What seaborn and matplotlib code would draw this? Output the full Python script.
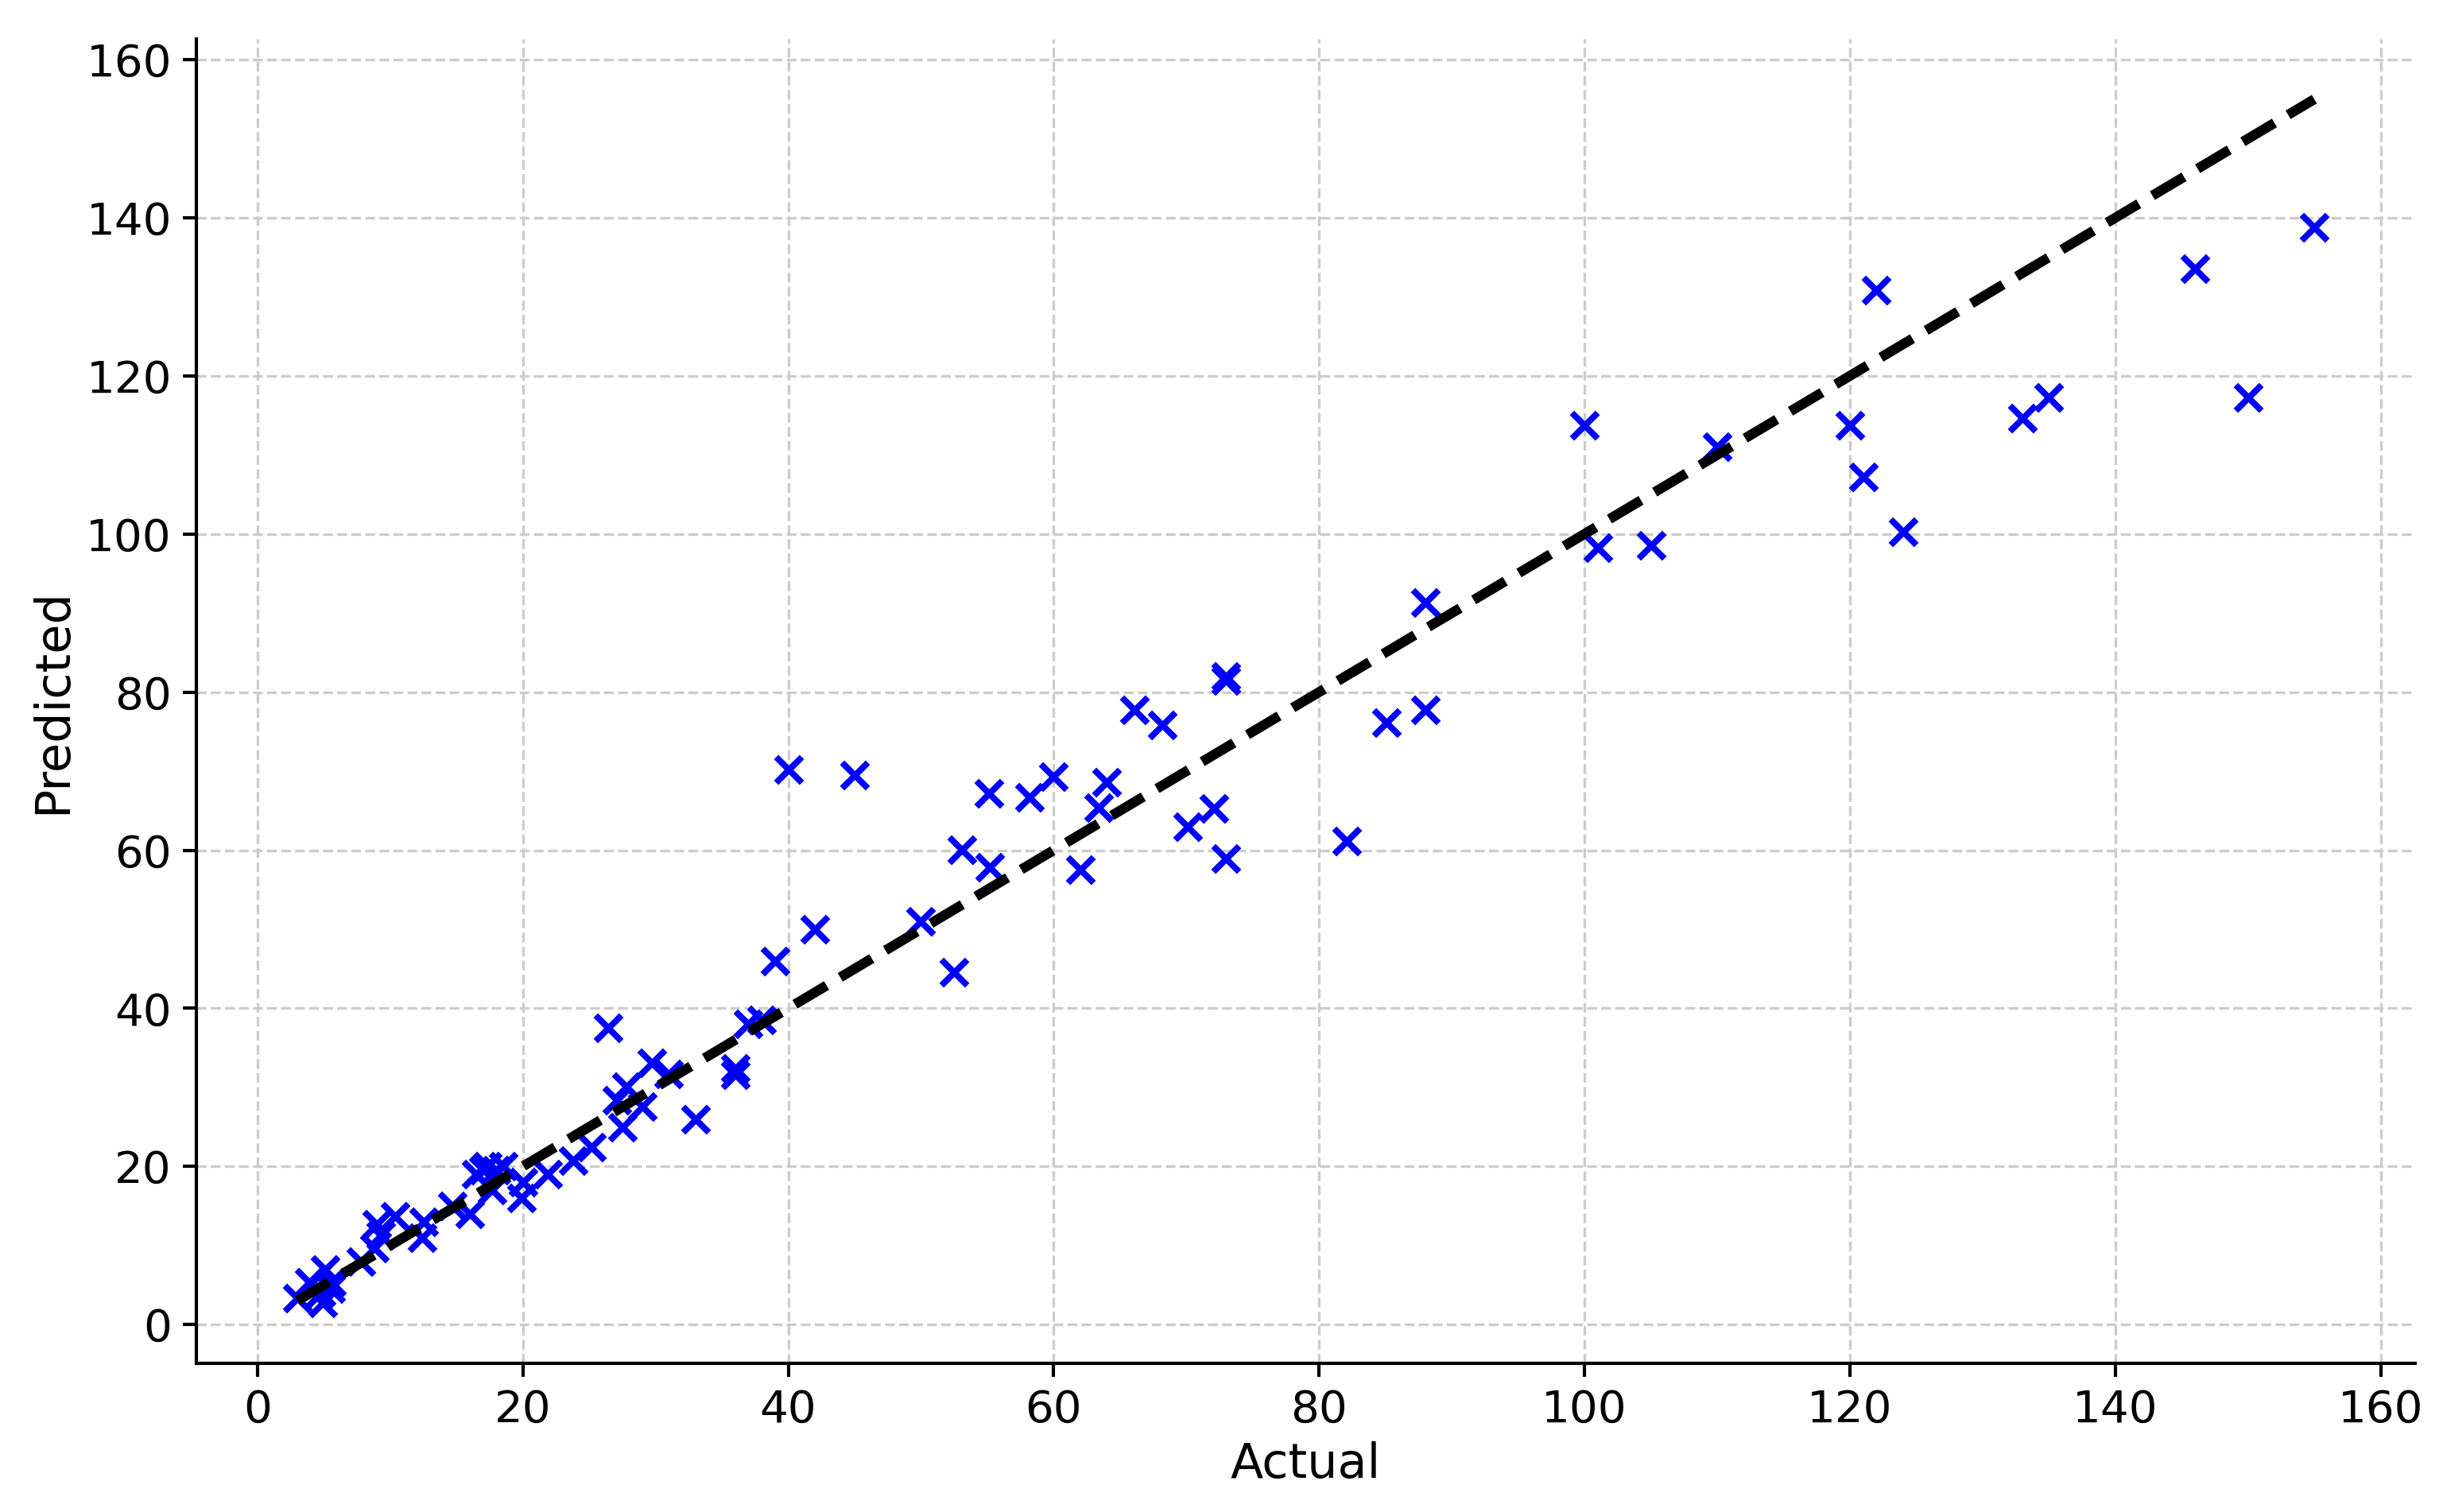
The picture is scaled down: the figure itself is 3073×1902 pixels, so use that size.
import matplotlib
matplotlib.use("Agg")
import matplotlib.pyplot as plt
import seaborn as sns
import pandas as pd
import numpy as np

actual = [3, 3.9, 4.8, 4.9, 5.1, 5.6, 5.5, 7.8, 8.8, 9.0, 9.3, 10.4, 12.4, 12.5,
          14.7, 16.0, 16.5, 17.0, 17.3, 17.7, 18.0, 18.5, 19.9, 20.0, 21.9, 23.8,
          25.2, 26.4, 27.1, 27.5, 27.8, 29.0, 29.7, 31.0, 33.0, 36.0, 36.0, 37.0,
          38.0, 39.0, 40.0, 42.0, 45.0, 50.0, 52.5, 53.1, 55.1, 55.2, 58.2, 60.0,
          62.0, 63.4, 64.0, 66.1, 68.2, 70.1, 72.1, 73.0, 73.0, 73.0, 82.1, 85.1,
          88.0, 88.0, 100.0, 101.0, 105.0, 110.0, 120.0, 121.0, 122.0, 124.0,
          133.0, 135.0, 146.0, 150.0, 155.0]
predicted = [3.3, 5.3, 4.0, 2.7, 7.0, 5.3, 4.5, 8.0, 9.7, 12.7, 11.3, 13.7, 11.0, 13.0,
             15.0, 14.0, 19.0, 19.5, 20.0, 17.0, 19.5, 20.0, 16.0, 18.0, 19.0, 20.7,
             22.4, 37.5, 28.4, 25.0, 30.1, 27.6, 33.1, 31.7, 26.0, 32.4, 31.6, 38.0,
             38.5, 46.0, 70.2, 50.0, 69.5, 51.0, 44.6, 60.1, 67.2, 57.8, 66.7, 69.3,
             57.5, 65.4, 68.6, 77.7, 75.8, 63.0, 65.3, 82.0, 81.5, 58.9, 61.2, 76.1,
             91.3, 77.7, 113.8, 98.3, 98.6, 111.0, 113.8, 107.2, 130.8, 100.3,
             114.7, 117.3, 133.6, 117.3, 138.8]

df = pd.DataFrame({"Actual": actual, "Predicted": predicted})
line_vals = [min(actual), max(actual)]

plt.rcParams['font.family'] = ['DejaVu Sans']
fig = plt.figure(figsize=(3073 / 300, 1902 / 300), dpi=300)
ax = fig.add_axes([0.0804, 0.0983, 0.9082, 0.8759])

sns.scatterplot(x="Actual", y="Predicted", data=df, marker="x", color="blue",
                s=60, linewidth=1.9, ax=ax, zorder=3)
sns.lineplot(x=line_vals, y=line_vals, color="black", linestyle="--",
             linewidth=3, ax=ax, zorder=4)

ax.set_xticks(range(0, 161, 20))
ax.set_yticks(range(0, 161, 20))
ax.grid(True, linestyle="--", color="#cccccc", linewidth=0.8)
ax.set_axisbelow(True)
ax.tick_params(labelsize=13.5, length=4, width=1)
ax.set_xlabel("Actual", fontsize=14.5, labelpad=3)
ax.set_ylabel("Predicted", fontsize=14.5, labelpad=3)

# only left and bottom spines
ax.spines['top'].set_visible(False)
ax.spines['right'].set_visible(False)
ax.spines['left'].set_linewidth(1)
ax.spines['bottom'].set_linewidth(1)

plt.savefig("out.png", dpi=300)
